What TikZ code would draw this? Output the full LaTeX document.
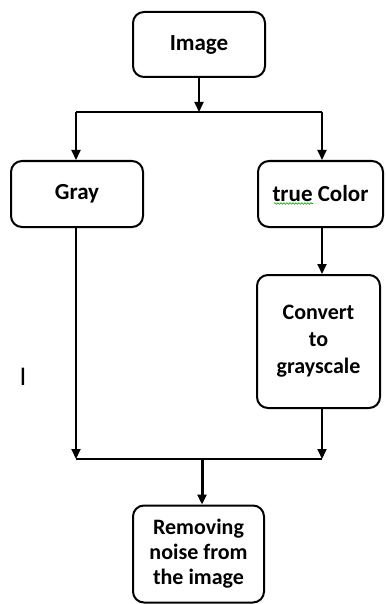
\documentclass[tikz,border=0pt]{standalone}
\usepackage{fontspec}
\setmainfont{Carlito}
\usetikzlibrary{arrows.meta,decorations.pathmorphing}
\begin{document}
\begin{tikzpicture}[x=1pt,y=-1pt,
  box/.style={draw=black,line width=2pt,rounded corners=11pt,inner sep=0pt,align=center,
    font=\fontsize{23}{27}\selectfont\bfseries},
  arr/.style={line width=2pt,-{Triangle[length=10pt,width=9pt]}},
  ln/.style={line width=2pt}]
\useasboundingbox (0,0) rectangle (385,604);
\node[box,minimum width=132pt,minimum height=65pt] (img) at (199,44.5) {Image};
\node[box,minimum width=132pt,minimum height=66pt] (gray) at (77,194) {Gray};
\node[box,minimum width=125pt,minimum height=66pt] (tc) at (320.5,194) {true Color};
\node[box,minimum width=123pt,minimum height=133pt,font=\fontsize{22}{27}\selectfont\bfseries] (conv) at (318.5,341.5) {Convert\\to\\grayscale};
\node[box,minimum width=131pt,minimum height=97pt,font=\fontsize{22}{25}\selectfont\bfseries] (rem) at (198.5,554) {Removing\\noise from\\the image};
\node[font=\fontsize{27}{30}\selectfont] (cur) at (23,377) {I};
\coordinate (tl) at (76,112);
\coordinate (tr) at (322,112);
\coordinate (bl) at (76,459);
\coordinate (br) at (322,459);
\coordinate (bm) at (202,459);
\draw[arr] (img.south) -- (img.south |- tl);
\draw[ln] (tl) -- (tr);
\draw[arr] (tl) -- (tl |- gray.north);
\draw[arr] (tr) -- (tr |- tc.north);
\draw[arr] (tr |- tc.south) -- (tr |- conv.north);
\draw[arr] (bl |- gray.south) -- (bl);
\draw[arr] (br |- conv.south) -- (br);
\draw[ln] (bl) -- (br);
\draw[line width=3pt,-{Triangle[length=10pt,width=9pt]}] (bm) -- (bm |- rem.north);
\draw[green!60!black,line width=0.6pt,decorate,decoration={snake,amplitude=0.8pt,segment length=3pt}] (274,203.5) -- (313,203.5);
\end{tikzpicture}
\end{document}
